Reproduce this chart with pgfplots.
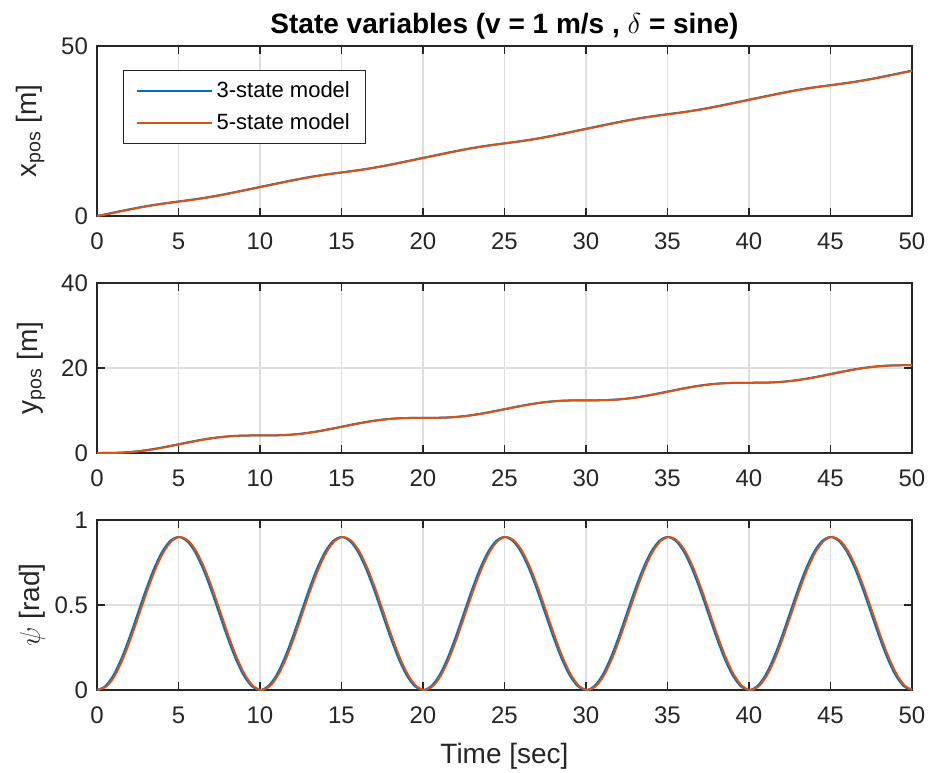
\documentclass[border=0pt]{standalone}
\usepackage{fontspec}
\setmainfont{Liberation Sans}
\usepackage{pgfplots}
\usepackage{pgfplotstable}
\pgfplotsset{compat=1.18}
\definecolor{mblue}{HTML}{0072BD}
\definecolor{morange}{HTML}{D95319}
\definecolor{axgray}{HTML}{262626}
\definecolor{gridgray}{HTML}{DFDFDF}

\pgfplotstableread{
t t5 x y psi
0 0 0 0 0
0.5 0.6 0.4999 0.0055 0.0220
1 1.1 0.9990 0.0325 0.0859
1.5 1.6 1.4938 0.1000 0.1855
2 2.1 1.9775 0.2226 0.3109
2.5 2.6 2.4406 0.4079 0.4500
3 3.1 2.8736 0.6555 0.5891
3.5 3.6 3.2703 0.9582 0.7145
4 4.1 3.6308 1.3038 0.8141
4.5 4.6 3.9621 1.6779 0.8780
5 5.1 4.2772 2.0661 0.9000
5.5 5.6 4.5923 2.4543 0.8780
6 6.1 4.9236 2.8284 0.8141
6.5 6.6 5.2841 3.1740 0.7145
7 7.1 5.6808 3.4767 0.5891
7.5 7.6 6.1138 3.7243 0.4500
8 8.1 6.5769 3.9096 0.3109
8.5 8.6 7.0606 4.0322 0.1855
9 9.1 7.5554 4.0997 0.0859
9.5 9.6 8.0544 4.1267 0.0220
10 10.1 8.5544 4.1322 0
10.5 10.6 9.0543 4.1377 0.0220
11 11.1 9.5534 4.1647 0.0859
11.5 11.6 10.0482 4.2322 0.1855
12 12.1 10.5319 4.3548 0.3109
12.5 12.6 10.9950 4.5401 0.4500
13 13.1 11.4280 4.7877 0.5891
13.5 13.6 11.8247 5.0904 0.7145
14 14.1 12.1852 5.4360 0.8141
14.5 14.6 12.5165 5.8101 0.8780
15 15.1 12.8316 6.1983 0.9000
15.5 15.6 13.1467 6.5865 0.8780
16 16.1 13.4780 6.9606 0.8141
16.5 16.6 13.8385 7.3062 0.7145
17 17.1 14.2352 7.6089 0.5891
17.5 17.6 14.6682 7.8565 0.4500
18 18.1 15.1313 8.0418 0.3109
18.5 18.6 15.6150 8.1644 0.1855
19 19.1 16.1098 8.2319 0.0859
19.5 19.6 16.6088 8.2589 0.0220
20 20.1 17.1088 8.2644 0
20.5 20.6 17.6087 8.2699 0.0220
21 21.1 18.1078 8.2969 0.0859
21.5 21.6 18.6026 8.3644 0.1855
22 22.1 19.0863 8.4870 0.3109
22.5 22.6 19.5494 8.6723 0.4500
23 23.1 19.9824 8.9199 0.5891
23.5 23.6 20.3791 9.2226 0.7145
24 24.1 20.7396 9.5682 0.8141
24.5 24.6 21.0709 9.9423 0.8780
25 25.1 21.3860 10.3305 0.9000
25.5 25.6 21.7011 10.7187 0.8780
26 26.1 22.0324 11.0928 0.8141
26.5 26.6 22.3929 11.4384 0.7145
27 27.1 22.7896 11.7411 0.5891
27.5 27.6 23.2226 11.9887 0.4500
28 28.1 23.6857 12.1740 0.3109
28.5 28.6 24.1694 12.2966 0.1855
29 29.1 24.6642 12.3641 0.0859
29.5 29.6 25.1632 12.3911 0.0220
30 30.1 25.6632 12.3966 0
30.5 30.6 26.1631 12.4021 0.0220
31 31.1 26.6622 12.4291 0.0859
31.5 31.6 27.1570 12.4966 0.1855
32 32.1 27.6407 12.6192 0.3109
32.5 32.6 28.1038 12.8045 0.4500
33 33.1 28.5368 13.0521 0.5891
33.5 33.6 28.9335 13.3548 0.7145
34 34.1 29.2940 13.7004 0.8141
34.5 34.6 29.6253 14.0745 0.8780
35 35.1 29.9404 14.4627 0.9000
35.5 35.6 30.2555 14.8509 0.8780
36 36.1 30.5868 15.2250 0.8141
36.5 36.6 30.9473 15.5706 0.7145
37 37.1 31.3440 15.8733 0.5891
37.5 37.6 31.7770 16.1209 0.4500
38 38.1 32.2401 16.3062 0.3109
38.5 38.6 32.7238 16.4288 0.1855
39 39.1 33.2186 16.4963 0.0859
39.5 39.6 33.7176 16.5233 0.0220
40 40.1 34.2176 16.5288 0
40.5 40.6 34.7175 16.5343 0.0220
41 41.1 35.2166 16.5613 0.0859
41.5 41.6 35.7114 16.6288 0.1855
42 42.1 36.1951 16.7514 0.3109
42.5 42.6 36.6582 16.9367 0.4500
43 43.1 37.0912 17.1843 0.5891
43.5 43.6 37.4879 17.4870 0.7145
44 44.1 37.8484 17.8326 0.8141
44.5 44.6 38.1797 18.2067 0.8780
45 45.1 38.4948 18.5949 0.9000
45.5 45.6 38.8099 18.9831 0.8780
46 46.1 39.1412 19.3572 0.8141
46.5 46.6 39.5017 19.7028 0.7145
47 47.1 39.8984 20.0055 0.5891
47.5 47.6 40.3314 20.2531 0.4500
48 48.1 40.7945 20.4384 0.3109
48.5 48.6 41.2782 20.5610 0.1855
49 49.1 41.7730 20.6285 0.0859
49.5 49.6 42.2720 20.6555 0.0220
50 50.1 42.7720 20.6610 0
}\datatable

\pgfplotsset{
  mlab/.style={
    scale only axis,
    width=407.5pt, height=85pt,
    xmin=0, xmax=50,
    xtick={0,5,...,50},
    xmajorgrids, ymajorgrids,
    grid style={gridgray, line width=0.8pt},
    axis line style={axgray, line width=0.8pt},
    tick style={axgray, line width=0.8pt},
    tick align=inside,
    major tick length=4pt,
    /pgf/number format/assume math mode=true,
    tick label style={font=\fontsize{12}{14}\selectfont, text=axgray},
    xticklabel shift=5pt,
    yticklabel shift=1pt,
    label style={font=\fontsize{14}{16}\selectfont, text=axgray},
    every axis plot/.append style={line width=1pt, smooth},
  }
}

\begin{document}
\begin{tikzpicture}
\useasboundingbox (-48.5pt,-41pt) rectangle (416.5pt,345pt);

% top axis
\begin{axis}[mlab,
  at={(0pt,237pt)}, anchor=south west,
  ymin=0, ymax=50, ytick={0,50},
  ylabel={x\textsubscript{pos} [m]},
  ylabel style={at={(axis description cs:-0.0748,0.5)}, anchor=base},
  title={\textbf{State variables (v = 1 m/s , $\delta$ = sine)}},
  title style={at={(axis description cs:0.5,1)}, anchor=base, yshift=0pt, font=\fontsize{14}{16}\selectfont},
  legend style={at={(axis description cs:0.0319,0.859)}, anchor=north west,
    draw=axgray, line width=0.6pt, fill=white,
    font=\fontsize{11}{13}\selectfont,
    inner xsep=6pt, inner ysep=3.5pt, row sep=2.5pt,
    nodes={inner sep=2pt}},
  legend cell align=left,
  legend image code/.code={\draw[#1] (0pt,0pt) -- (37.5pt,0pt);},
]
\addplot[mblue] table[x=t, y=x] {\datatable};
\addlegendentry{3-state model}
\addplot[morange] table[x=t5, y=x] {\datatable};
\addlegendentry{5-state model}
\end{axis}

% middle axis
\begin{axis}[mlab,
  at={(0pt,118.5pt)}, anchor=south west,
  ymin=0, ymax=40, ytick={0,20,40},
  ylabel={y\textsubscript{pos} [m]},
  ylabel style={at={(axis description cs:-0.0736,0.5)}, anchor=base},
]
\addplot[mblue] table[x=t, y=y] {\datatable};
\addplot[morange] table[x=t5, y=y] {\datatable};
\end{axis}

% bottom axis
\begin{axis}[mlab,
  at={(0pt,0pt)}, anchor=south west,
  ymin=0, ymax=1, ytick={0,0.5,1},
  ylabel={$\psi$ [rad]},
  ylabel style={at={(axis description cs:-0.070,0.5)}, anchor=base},
  xlabel={Time [sec]},
  xlabel style={at={(axis description cs:0.5,0)}, anchor=base, yshift=-36.5pt},
]
\addplot[mblue] table[x=t, y=psi] {\datatable};
\addplot[morange] table[x=t5, y=psi] {\datatable};
\end{axis}
\end{tikzpicture}
\end{document}
